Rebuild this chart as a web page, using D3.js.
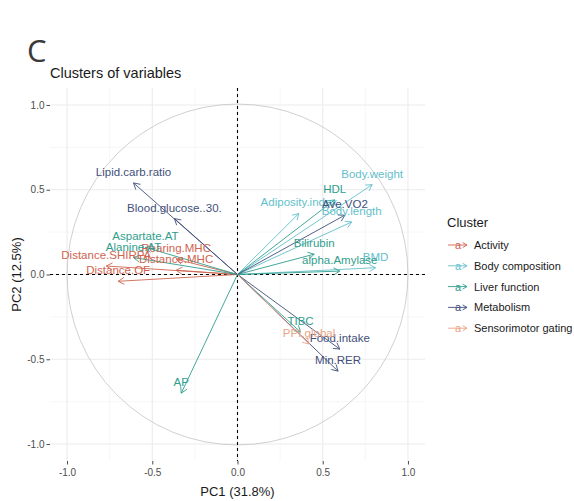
<!DOCTYPE html>
<html>
<head>
<meta charset="utf-8">
<script src="https://cdn.jsdelivr.net/npm/d3@7"></script>
<style>
  html, body { margin: 0; padding: 0; background: #fff; }
  svg { display: block; font-family: "Liberation Sans", Arial, sans-serif; }
</style>
</head>
<body>
<svg id="chart" width="574" height="501"></svg>
<script>
// Variable loadings on the first two principal components, grouped by cluster
const variables = [
  "Distance.OF", "Distance.SHIRPA", "Distance.MHC", "Rearing.MHC",
  "Body.weight", "Body.length", "Adiposity.index", "BMD",
  "Aspartate.AT", "Alanine.AT", "HDL", "Bilirubin", "alpha.Amylase", "TIBC", "AP",
  "Lipid.carb.ratio", "Blood.glucose..30.", "Ave.VO2", "Food.intake", "Min.RER",
  "PPI.global"
];
const pc1 = [
  -0.70, -0.77, -0.36, -0.36,
   0.79,  0.67,  0.36,  0.81,
  -0.54, -0.61,  0.57,  0.45,  0.60,  0.37, -0.33,
  -0.61, -0.37,  0.63,  0.60,  0.59,
   0.42
];
const pc2 = [
  -0.04,  0.05,  0.025, 0.09,
   0.53,  0.31,  0.36,  0.04,
   0.16,  0.10,  0.44,  0.12,  0.02, -0.34, -0.70,
   0.54,  0.33,  0.35, -0.44, -0.57,
  -0.41
];
const cluster = [
  "Activity", "Activity", "Activity", "Activity",
  "Body composition", "Body composition", "Body composition", "Body composition",
  "Liver function", "Liver function", "Liver function", "Liver function", "Liver function", "Liver function", "Liver function",
  "Metabolism", "Metabolism", "Metabolism", "Metabolism", "Metabolism",
  "Sensorimotor gating"
];
const clusterNames = ["Activity", "Body composition", "Liver function", "Metabolism", "Sensorimotor gating"];
const clusterColors = ["#cf6450", "#63bfcb", "#2f9e8c", "#424f7b", "#eba384"];
const majorTicks = [-1.0, -0.5, 0.0, 0.5, 1.0];
const minorTicks = [-0.75, -0.25, 0.25, 0.75];

const svg = d3.select("#chart");
const x = d3.scaleLinear().domain([-1.1, 1.1]).range([50, 425]);
const y = d3.scaleLinear().domain([-1.1, 1.1]).range([461, 88]);
const color = d3.scaleOrdinal().domain(clusterNames).range(clusterColors);

// Panel label and title
svg.append("text").attr("x", 27).attr("y", 62).attr("font-size", 31)
  .attr("fill", "#3a3a3a").attr("font-family", "'Open Sans', 'Noto Sans', sans-serif").text("C");
svg.append("text").attr("x", 50).attr("y", 78).attr("font-size", 14.5)
  .attr("fill", "#1a1a1a").text("Clusters of variables");

// Grid
const grid = svg.append("g");
minorTicks.forEach(t => {
  grid.append("line").attr("x1", x(t)).attr("x2", x(t)).attr("y1", y.range()[1]).attr("y2", y.range()[0])
    .attr("stroke", "#f1f1f1").attr("stroke-width", 0.6);
  grid.append("line").attr("y1", y(t)).attr("y2", y(t)).attr("x1", x.range()[0]).attr("x2", x.range()[1])
    .attr("stroke", "#f1f1f1").attr("stroke-width", 0.6);
});
majorTicks.forEach(t => {
  grid.append("line").attr("x1", x(t)).attr("x2", x(t)).attr("y1", y.range()[1]).attr("y2", y.range()[0])
    .attr("stroke", "#ebebeb").attr("stroke-width", 1.1);
  grid.append("line").attr("y1", y(t)).attr("y2", y(t)).attr("x1", x.range()[0]).attr("x2", x.range()[1])
    .attr("stroke", "#ebebeb").attr("stroke-width", 1.1);
});

// Axes
const xAxis = d3.axisBottom(x).tickValues(majorTicks).tickFormat(d3.format(".1f")).tickSize(3.5).tickPadding(4);
const yAxis = d3.axisLeft(y).tickValues(majorTicks).tickFormat(d3.format(".1f")).tickSize(3.5).tickPadding(2);
const gx = svg.append("g").attr("transform", `translate(0,${y.range()[0]})`).call(xAxis);
const gy = svg.append("g").attr("transform", `translate(${x.range()[0]},0)`).call(yAxis);
[gx, gy].forEach(g => {
  g.select(".domain").remove();
  g.selectAll(".tick line").attr("stroke", "#4d4d4d").attr("stroke-width", 1);
  g.selectAll(".tick text").attr("fill", "#4d4d4d").attr("font-size", 10)
    .attr("font-family", "'Liberation Sans', Arial, sans-serif")
    .text(d => d3.format(".1f")(d).replace("\u2212", "-"));
});

svg.append("text").attr("x", x(0)).attr("y", 496).attr("text-anchor", "middle")
  .attr("font-size", 13).attr("fill", "#1a1a1a").text("PC1 (31.8%)");
svg.append("text").attr("transform", `translate(21,${y(0)}) rotate(-90)`).attr("text-anchor", "middle")
  .attr("font-size", 13).attr("fill", "#1a1a1a").text("PC2 (12.5%)");

// Correlation circle
svg.append("circle").attr("cx", x(0)).attr("cy", y(0)).attr("r", x(1) - x(0))
  .attr("fill", "none").attr("stroke", "#c4c4c4").attr("stroke-width", 0.8);

// Reference lines through the origin
svg.append("line").attr("x1", x(0)).attr("x2", x(0)).attr("y1", y.range()[1]).attr("y2", y.range()[0])
  .attr("stroke", "#000").attr("stroke-width", 1.1).attr("stroke-dasharray", "3,3");
svg.append("line").attr("y1", y(0)).attr("y2", y(0)).attr("x1", x.range()[0]).attr("x2", x.range()[1])
  .attr("stroke", "#000").attr("stroke-width", 1.1).attr("stroke-dasharray", "3,3");

// Open arrowhead path at the end of a segment
function arrowHead(x0, y0, x1, y1, len) {
  const a = Math.atan2(y1 - y0, x1 - x0);
  const s = Math.PI / 6;
  const p1 = [x1 - len * Math.cos(a - s), y1 - len * Math.sin(a - s)];
  const p2 = [x1 - len * Math.cos(a + s), y1 - len * Math.sin(a + s)];
  return `M${p1[0]},${p1[1]}L${x1},${y1}L${p2[0]},${p2[1]}`;
}

const data = variables.map((name, i) => ({ name, pc1: pc1[i], pc2: pc2[i], cluster: cluster[i] }));

const arrows = svg.append("g");
data.forEach(d => {
  const c = color(d.cluster);
  arrows.append("line").attr("x1", x(0)).attr("y1", y(0)).attr("x2", x(d.pc1)).attr("y2", y(d.pc2))
    .attr("stroke", c).attr("stroke-width", 0.9);
  arrows.append("path").attr("d", arrowHead(x(0), y(0), x(d.pc1), y(d.pc2), 7))
    .attr("fill", "none").attr("stroke", c).attr("stroke-width", 0.9);
});

const labels = svg.append("g");
data.forEach(d => {
  labels.append("text").attr("x", x(d.pc1)).attr("y", y(d.pc2) - 7)
    .attr("text-anchor", "middle").attr("font-size", 11.5)
    .attr("fill", color(d.cluster)).text(d.name);
});

// Legend
const legend = svg.append("g");
legend.append("text").attr("x", 447).attr("y", 227).attr("font-size", 13).attr("fill", "#1a1a1a").text("Cluster");
clusterNames.forEach((n, i) => {
  const cy = 245 + i * 20.8;
  const c = color(n);
  legend.append("line").attr("x1", 448).attr("x2", 467).attr("y1", cy).attr("y2", cy)
    .attr("stroke", c).attr("stroke-width", 0.9);
  legend.append("path").attr("d", arrowHead(448, cy, 467, cy, 5)).attr("fill", "none")
    .attr("stroke", c).attr("stroke-width", 0.9);
  legend.append("text").attr("x", 458).attr("y", cy + 4).attr("text-anchor", "middle")
    .attr("font-size", 11).attr("fill", c).text("a");
  legend.append("text").attr("x", 474).attr("y", cy + 4).attr("font-size", 11)
    .attr("fill", "#1a1a1a").text(n);
});
</script>
</body>
</html>
